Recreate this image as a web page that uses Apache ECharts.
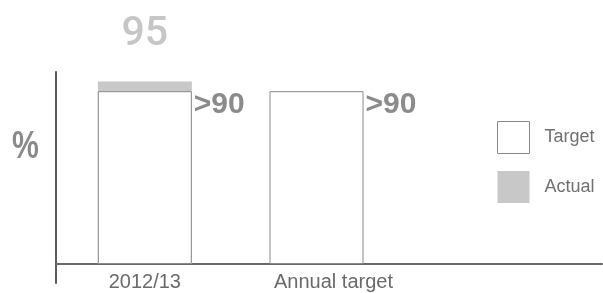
<!DOCTYPE html>
<html><head><meta charset="utf-8">
<script src="https://cdn.jsdelivr.net/npm/echarts@6/dist/echarts.min.js"></script>
<style>html,body{margin:0;padding:0;background:#fff}#c{width:603px;height:293px}</style>
</head><body><div id="c"></div>
<script>
const categories = ['2012/13', 'Annual target', ''];
const actualValues = [95, null, null];
const targetValues = [90, 90, null];
const seriesNames = ['Target', 'Actual'];
const unitLabel = '%';

const chart = echarts.init(document.getElementById('c'), null, {renderer: 'canvas'});
chart.setOption({
  animation: false,
  backgroundColor: '#fff',
  graphic: [{
    type: 'text', x: 12, y: 128, scaleX: 0.84, scaleY: 1.08,
    style: {text: unitLabel, font: 'bold 36px "Liberation Sans", Arial, sans-serif', fill: '#8a8a8a'}
  }],
  legend: {
    orient: 'vertical', left: 497, top: 121, padding: 0, itemWidth: 32, itemHeight: 32, itemGap: 17,
    textStyle: {fontFamily: 'Liberation Sans, Arial, sans-serif', fontSize: 18, color: '#707070', padding: [0, 0, 0, 10]},
    data: [
      {name: seriesNames[0], icon: 'rect', itemStyle: {color: '#fff', borderColor: '#8a8a8a', borderWidth: 1}},
      {name: seriesNames[1], icon: 'rect', itemStyle: {color: '#c8c8c8', borderWidth: 0}}
    ]
  },
  grid: [
    {left: 59, width: 515, top: 72, height: 192, outerBoundsMode: 'none', containLabel: false},
    {left: 56, right: 1, top: 72, bottom: 10, outerBoundsMode: 'none', containLabel: false}
  ],
  xAxis: [
    {type: 'category', gridIndex: 0, data: categories.map((c, i) => i === 1 ? {value: c, textStyle: {padding: [0, 0, 0, 34]}} : c),
     axisLine: {show: false}, axisTick: {show: false},
     axisLabel: {margin: 8, fontFamily: 'Liberation Sans, Arial, sans-serif', fontSize: 20, color: '#6a6a6a'}},
    {type: 'value', gridIndex: 1, min: 0, max: 1, axisLine: {show: true, onZero: true, lineStyle: {color: '#6a6a6a', width: 2}},
     axisTick: {show: false}, axisLabel: {show: false}, splitLine: {show: false}}
  ],
  yAxis: [
    {type: 'value', gridIndex: 0, min: 0, max: 100, show: false},
    {type: 'value', gridIndex: 1, min: -10, max: 100, axisLine: {show: true, lineStyle: {color: '#5a5a5a', width: 2}},
     axisTick: {show: false}, axisLabel: {show: false}, splitLine: {show: false}}
  ],
  series: [
    {name: seriesNames[1], type: 'bar', xAxisIndex: 0, yAxisIndex: 0, data: actualValues, barWidth: 94, barGap: '-100%',
     itemStyle: {color: '#c8c8c8'},
     label: {show: true, position: 'top', distance: 26, fontFamily: 'Roboto, Liberation Sans, sans-serif', fontSize: 41, fontWeight: 500, color: '#c6c6c6'}},
    {name: seriesNames[0], type: 'bar', xAxisIndex: 0, yAxisIndex: 0, data: targetValues, barWidth: 94, barGap: '-100%',
     itemStyle: {color: '#fff', borderColor: '#8a8a8a', borderWidth: 1},
     label: {show: true, position: ['100%', 0], offset: [2, -1], formatter: '>{c}',
       fontFamily: 'Liberation Sans, Arial, sans-serif', fontSize: 30, fontWeight: 'bold', color: '#8b8b8b'}}
  ]
});
</script></body></html>
